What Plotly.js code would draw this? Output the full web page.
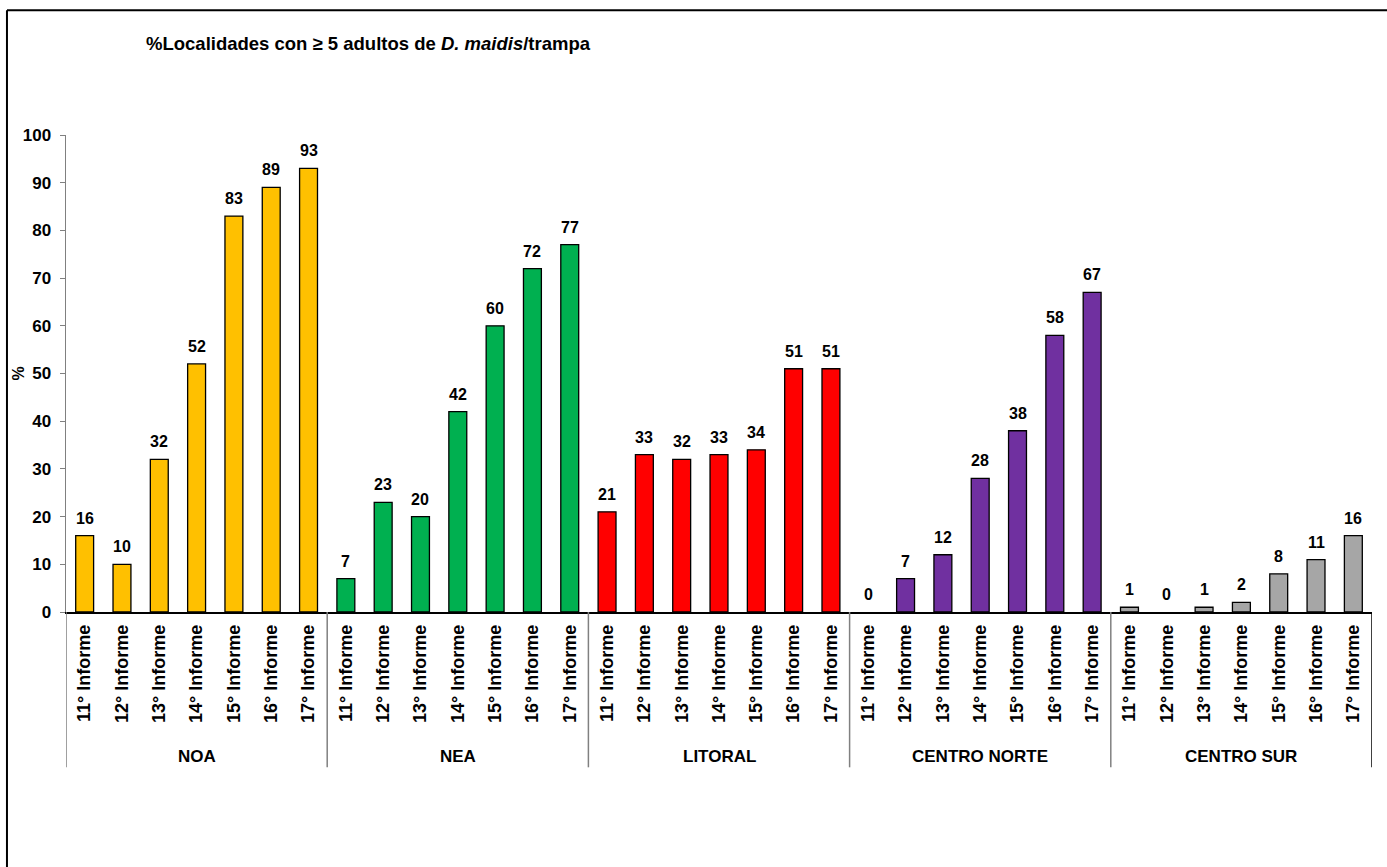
<!DOCTYPE html>
<html>
<head>
<meta charset="utf-8">
<script src="https://cdn.plot.ly/plotly-3.0.1.min.js"></script>
<style>html,body{margin:0;padding:0;background:#fff;}#chart{width:1387px;height:867px;}</style>
</head>
<body>
<div id="chart"></div>
<script>
// ---- data ----
const regions = ["NOA", "NEA", "LITORAL", "CENTRO NORTE", "CENTRO SUR"];
const informes = ["11° Informe", "12° Informe", "13° Informe", "14° Informe", "15° Informe", "16° Informe", "17° Informe"];
const noa = [16, 10, 32, 52, 83, 89, 93];
const nea = [7, 23, 20, 42, 60, 72, 77];
const litoral = [21, 33, 32, 33, 34, 51, 51];
const centroNorte = [0, 7, 12, 28, 38, 58, 67];
const centroSur = [1, 0, 1, 2, 8, 11, 16];
const regionColors = ["#FFC000", "#00B050", "#FF0000", "#7030A0", "#A6A6A6"];
const titleText = "%Localidades con ≥ 5 adultos de <i>D. maidis</i>/trampa";
const yTitle = "%";

const series = [noa, nea, litoral, centroNorte, centroSur];
const NARROW = "'Liberation Sans Narrow', 'Arial Narrow', 'Liberation Sans', Arial, sans-serif";
const WIDE = "'Liberation Sans', Arial, sans-serif";

const traces = [];
const annotations = [];
const shapes = [];
const tickvals = [];
const ticktext = [];
const n = informes.length;

series.forEach((vals, g) => {
  const xs = vals.map((v, i) => g * n + i);
  xs.forEach((x, i) => { tickvals.push(x); ticktext.push(informes[i]); });
  traces.push({
    type: "bar",
    x: xs,
    y: vals,
    name: regions[g],
    width: 0.48,
    marker: { color: regionColors[g], line: { color: "#000", width: vals.map(v => v === 0 ? 0 : 1.3) } },
    hoverinfo: "skip"
  });
  vals.forEach((v, i) => {
    annotations.push({
      x: xs[i], y: v, xref: "x", yref: "y",
      text: String(v), showarrow: false,
      yanchor: "bottom", yshift: 7,
      font: { family: NARROW, size: 16, color: "#000", weight: "bold" }
    });
  });
  // group label
  annotations.push({
    x: g * n + (n - 1) / 2, y: -0.3025, xref: "x", yref: "paper",
    text: regions[g], showarrow: false, yanchor: "middle",
    font: { family: NARROW, size: 17, color: "#000", weight: "bold" }
  });
});

// y-axis title
annotations.push({
  x: -0.036, y: 0.5, xref: "paper", yref: "paper",
  text: yTitle, showarrow: false, textangle: -90,
  xanchor: "center", yanchor: "middle",
  font: { family: NARROW, size: 16, color: "#000", weight: "bold" }
});

// group separators
for (let g = 0; g <= regions.length; g++) {
  shapes.push({
    type: "line", xref: "x", yref: "paper",
    x0: g * n - 0.5, x1: g * n - 0.5, y0: 0, y1: -0.3256,
    line: { color: g === regions.length ? "#000" : "#808080", width: 1.5 }
  });
}
// outer frame (top and left)
shapes.push({ type: "line", xref: "paper", yref: "paper", x0: -0.0452, x1: 1.02, y0: 1.2614, y1: 1.2614, line: { color: "#000", width: 2 } });
shapes.push({ type: "line", xref: "paper", yref: "paper", x0: -0.0452, x1: -0.0452, y0: 1.2614, y1: -0.54, line: { color: "#000", width: 2 } });

const layout = {
  width: 1387, height: 867,
  margin: { l: 66, r: 15, t: 135, b: 255, pad: 0 },
  paper_bgcolor: "#fff", plot_bgcolor: "#fff",
  showlegend: false,
  bargap: 0,
  title: {
    text: titleText,
    x: 146 / 1387, xanchor: "left", xref: "container",
    y: 1 - 44 / 867, yanchor: "middle", yref: "container",
    font: { family: NARROW, size: 18.5, color: "#000", weight: "bold" }
  },
  xaxis: {
    range: [-0.5, regions.length * n - 0.5],
    tickmode: "array", tickvals: tickvals, ticktext: ticktext,
    tickangle: -90,
    ticks: "", ticklabelstandoff: 4,
    showline: true, linecolor: "#000", linewidth: 1.5,
    showgrid: false, zeroline: false,
    tickfont: { family: WIDE, size: 18, color: "#000", weight: "bold" },
    fixedrange: true
  },
  yaxis: {
    range: [0, 100], dtick: 10, tick0: 0,
    ticks: "outside", ticklen: 5, tickcolor: "#808080", tickwidth: 1,
    showline: true, linecolor: "#808080", linewidth: 1.5,
    showgrid: false, zeroline: false,
    tickfont: { family: NARROW, size: 17, color: "#000", weight: "bold" },
    ticklabelstandoff: 5,
    fixedrange: true
  },
  annotations: annotations,
  shapes: shapes
};

Plotly.newPlot("chart", traces, layout, { displayModeBar: false, staticPlot: true });
</script>
</body>
</html>
